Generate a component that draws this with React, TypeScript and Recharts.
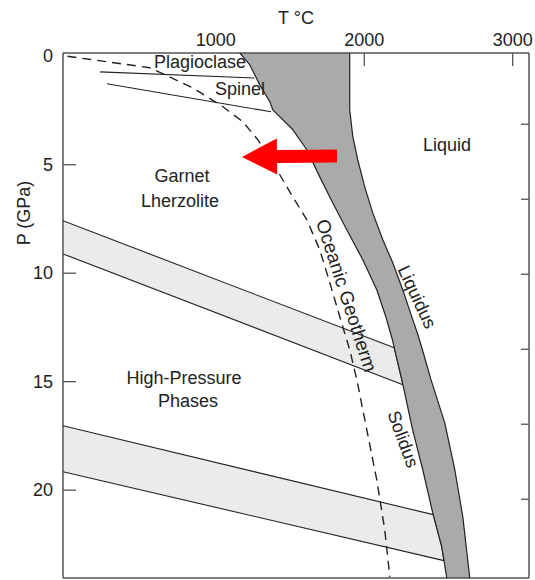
import { ComposedChart, XAxis, YAxis, Scatter, ReferenceDot, Label } from 'recharts'

const tempTicks = [1000, 2000, 3000]
const pressureTicks = [0, 5, 10, 15, 20]
const depthTicks = [100, 200, 300, 400, 500, 600]

// [T °C, P GPa]
const solidus = [
  [1162, -0.15], [1229, 0.4], [1296, 1.32], [1364, 2.1], [1384, 2.47], [1519, 3.39], [1613, 4.31],
  [1700, 5.56], [1788, 6.76], [1882, 8.0], [1990, 9.38], [2084, 10.76], [2146, 12.02], [2190, 13.08],
  [2253, 14.91], [2326, 17.22], [2394, 19.06], [2461, 21.04], [2522, 22.6], [2556, 24.05],
]
const liquidus = [
  [1902, -0.15], [1902, 2.47], [1923, 3.71], [1956, 4.77], [2003, 6.02], [2057, 7.22], [2125, 8.46],
  [2192, 9.52], [2259, 10.76], [2320, 12.0], [2362, 12.85], [2402, 13.77], [2450, 14.92], [2542, 16.89],
  [2610, 19.06], [2664, 21.23], [2711, 24.05],
]
const geotherm = [
  [0, 0], [556, 0.53], [845, 1.46], [1040, 2.29], [1182, 3.02], [1283, 3.85], [1384, 4.91], [1498, 6.25],
  [1613, 7.54], [1700, 8.92], [1768, 10.44], [1835, 12.01], [1902, 13.53], [1950, 14.91], [2017, 17.22],
  [2084, 19.52], [2138, 21.82], [2172, 24.0],
]
const plagioclaseOut = [[219, 0.72], [1260, 1.0]]
const spinelOut = [[266, 1.27], [1372, 2.56]]
const upperTransition = [[-30, 7.58], [2202, 13.44], [2253, 14.91], [2260, 15.14], [-30, 9.11]]
const lowerTransition = [[-30, 17.03], [2465, 21.13], [2522, 22.6], [2537, 23.25], [-30, 19.15]]
// red arrow: tail -> tip
const arrowPath = [[1816, 4.6], [1176, 4.64]]

const pts = (a: number[][]) => a.map(([t, p]) => ({ t, p }))
const meltBand = [...solidus, ...[...liquidus].reverse()]

const ink = '#222'
const FONT = 18

const path = (fill: string, width: number, close: boolean, dash?: string) => (props: any) => {
  const list = props.points || []
  if (!list.length) return <g />
  const d = list.map((q: any, i: number) => `${i ? 'L' : 'M'}${q.x},${q.y}`).join('') + (close ? 'Z' : '')
  return <path d={d} fill={fill} stroke={ink} strokeWidth={width} strokeDasharray={dash} strokeLinejoin="round" />
}

const hidden = () => <g />

const note = (text: string, angle = 0, central = false, size = FONT) => (props: any) => (
  <text
    x={props.cx}
    y={props.cy}
    fontSize={size}
    fill={ink}
    textAnchor="middle"
    dominantBaseline={central ? 'central' : undefined}
    transform={angle ? `rotate(${angle} ${props.cx} ${props.cy})` : undefined}
  >
    {text}
  </text>
)

const arrow = (props: any) => {
  const list = props.points || []
  if (list.length < 2) return <g />
  const [a, b] = list
  const len = Math.hypot(b.x - a.x, b.y - a.y)
  const ang = (Math.atan2(b.y - a.y, b.x - a.x) * 180) / Math.PI
  const head = 35
  const sh = 6.5
  const hw = 18
  const d = `M0,${-sh} L${len - head},${-sh} L${len - head},${-hw} L${len},0 L${len - head},${hw} L${len - head},${sh} L0,${sh} Z`
  return <path d={d} fill="#ff0000" transform={`translate(${a.x} ${a.y}) rotate(${ang})`} />
}

const TopTick = (props: any) => {
  const { x, y, payload } = props
  return (
    <g>
      {payload.value !== 1000 && <line x1={x} y1={y} x2={x} y2={y + 13} stroke="#555" strokeWidth={1.3} />}
      <text x={x} y={y - 7} textAnchor="middle" fontSize={FONT} fill={ink}>{payload.value}</text>
    </g>
  )
}
const BottomTick = (props: any) => (
  <line x1={props.x} y1={props.y} x2={props.x} y2={props.y - 11} stroke="#555" strokeWidth={1.3} />
)
const LeftTick = (props: any) => {
  const { x, y, payload } = props
  return (
    <g>
      {payload.value !== 0 && <line x1={x} y1={y} x2={x + 13} y2={y} stroke="#555" strokeWidth={1.3} />}
      <text x={x - 10} y={y + 6} textAnchor="end" fontSize={FONT} fill={ink}>{payload.value}</text>
    </g>
  )
}
const RightTick = (props: any) => (
  <line x1={props.x} y1={props.y} x2={props.x - 8} y2={props.y} stroke="#555" strokeWidth={1.3} />
)

const axisLine = { stroke: '#555', strokeWidth: 1.5 }

export default function App() {
  return (
    <div style={{ position: 'absolute', left: 0, top: 0, fontFamily: '"Liberation Sans", Arial, sans-serif', background: '#fff' }}>
      <ComposedChart width={535} height={580} margin={{ top: 52, right: 5, bottom: 1, left: 62 }}>
        <XAxis xAxisId="t" orientation="top" type="number" dataKey="t" domain={[-30, 3110]} allowDataOverflow
          ticks={tempTicks} height={1} tickSize={0} tickMargin={0} tickLine={false} axisLine={axisLine} tick={TopTick}>
          <Label value="T °C" position="top" offset={28} fontSize={FONT} fill={ink} />
        </XAxis>
        <XAxis xAxisId="b" orientation="bottom" type="number" domain={[-30, 3110]} allowDataOverflow
          ticks={tempTicks} height={1} tickSize={0} tickMargin={0} tickLine={false} axisLine={axisLine} tick={BottomTick} />
        <YAxis yAxisId="p" orientation="left" type="number" dataKey="p" domain={[-0.15, 24.05]} allowDataOverflow reversed
          ticks={pressureTicks} width={1} tickSize={0} tickMargin={0} tickLine={false} axisLine={axisLine} tick={LeftTick}>
          <Label
            content={(p: any) => {
              const vb = p.viewBox || { x: 62, y: 53 }
              const cx = vb.x - 38
              const cy = vb.y + 160
              return (
                <text x={cx} y={cy} fontSize={FONT} fill={ink} textAnchor="middle" dominantBaseline="central"
                  transform={`rotate(-90 ${cx} ${cy})`}>P (GPa)</text>
              )
            }}
          />
        </YAxis>
        <YAxis yAxisId="d" orientation="right" type="number" domain={[5, 705]} allowDataOverflow reversed
          ticks={depthTicks} width={1} tickSize={0} tickMargin={0} tickLine={false} axisLine={axisLine} tick={RightTick} />

        <Scatter data={pts(upperTransition)} xAxisId="t" yAxisId="p" line={path('#ebebeb', 1.1, true)} lineType="joint" shape={hidden} isAnimationActive={false} />
        <Scatter data={pts(lowerTransition)} xAxisId="t" yAxisId="p" line={path('#ebebeb', 1.1, true)} lineType="joint" shape={hidden} isAnimationActive={false} />
        <Scatter data={pts(meltBand)} xAxisId="t" yAxisId="p" line={path('#aaaaaa', 1.2, true)} lineType="joint" shape={hidden} isAnimationActive={false} />
        <Scatter data={pts(plagioclaseOut)} xAxisId="t" yAxisId="p" line={path('none', 1.1, false)} lineType="joint" shape={hidden} isAnimationActive={false} />
        <Scatter data={pts(spinelOut)} xAxisId="t" yAxisId="p" line={path('none', 1.1, false)} lineType="joint" shape={hidden} isAnimationActive={false} />
        <Scatter data={pts(geotherm)} xAxisId="t" yAxisId="p" line={path('none', 1.4, false, '9 6')} lineType="joint" shape={hidden} isAnimationActive={false} />
        <Scatter data={pts(arrowPath)} xAxisId="t" yAxisId="p" line={arrow} lineType="joint" shape={hidden} isAnimationActive={false} />

        <ReferenceDot xAxisId="t" yAxisId="p" x={893} y={0.54} r={0} shape={note('Plagioclase')} />
        <ReferenceDot xAxisId="t" yAxisId="p" x={1163} y={1.79} r={0} shape={note('Spinel')} />
        <ReferenceDot xAxisId="t" yAxisId="p" x={772} y={5.8} r={0} shape={note('Garnet')} />
        <ReferenceDot xAxisId="t" yAxisId="p" x={758} y={6.95} r={0} shape={note('Lherzolite')} />
        <ReferenceDot xAxisId="t" yAxisId="p" x={2557} y={4.37} r={0} shape={note('Liquid')} />
        <ReferenceDot xAxisId="t" yAxisId="p" x={785} y={15.11} r={0} shape={note('High-Pressure')} />
        <ReferenceDot xAxisId="t" yAxisId="p" x={812} y={16.17} r={0} shape={note('Phases')} />
        <ReferenceDot xAxisId="t" yAxisId="p" x={1880} y={11.03} r={0} shape={note('Oceanic Geotherm', 72, true, 19)} />
        <ReferenceDot xAxisId="t" yAxisId="p" x={2355} y={11.1} r={0} shape={note('Liquidus', 65, true)} />
        <ReferenceDot xAxisId="t" yAxisId="p" x={2261} y={17.65} r={0} shape={note('Solidus', 70, true)} />
      </ComposedChart>
    </div>
  )
}
